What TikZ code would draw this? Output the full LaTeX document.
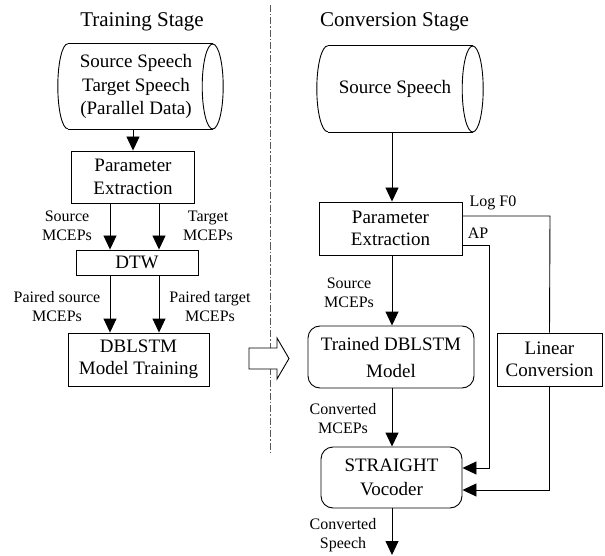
\documentclass[tikz,border=0pt]{standalone}
\usepackage{fontspec}
\setmainfont{Liberation Serif}
\usetikzlibrary{arrows.meta}
\tikzset{
  box/.style={draw, line width=0.9pt, align=center, inner sep=0pt, font=\fontsize{19}{22.5}\selectfont},
  rbox/.style={box, rounded corners=12pt},
  ghost/.style={align=center, inner sep=0pt, font=\fontsize{19}{23.5}\selectfont},
  lbl/.style={align=center, inner sep=0pt, font=\fontsize{16}{19}\selectfont},
  ttl/.style={inner sep=0pt, font=\fontsize{21}{25}\selectfont},
  arr/.style={line width=0.9pt, -{Triangle[length=14pt,width=13pt]}},
  ln/.style={line width=0.9pt},
  cyl/.style={line width=0.9pt}
}
\begin{document}
\begin{tikzpicture}[x=1pt,y=-1pt]
\useasboundingbox (0,0) rectangle (605,556);

% titles
\node[ttl] (t1) at (142,22) {Training Stage};
\node[ttl] (t2) at (394.5,22) {Conversion Stage};

% separator
\draw[gray!70!black, line width=0.8pt, dash pattern=on 7pt off 2pt on 1.5pt off 2pt] (270,5) -- (270,452);

% left cylinder
\node[ghost, minimum width=144.5pt, minimum height=85pt] (cyl1) at (140.25,86.5) {};
\node[ghost] (cyl1t) at (136,86.5) {Source Speech\\Target Speech\\(Parallel Data)};
\draw[cyl] (cyl1.north west) -- (cyl1.north east);
\draw[cyl] (cyl1.south west) -- (cyl1.south east);
\draw[cyl] (cyl1.north west) arc[start angle=90, end angle=270, x radius=10pt, y radius=42.5pt];
\draw[cyl] (cyl1.east) ellipse [x radius=10.5pt, y radius=42.5pt];

% right cylinder
\node[ghost, minimum width=144.5pt, minimum height=86pt] (cyl2) at (400.25,89) {};
\node[ghost] (cyl2t) at (395,89) {Source Speech};
\draw[cyl] (cyl2.north west) -- (cyl2.north east);
\draw[cyl] (cyl2.south west) -- (cyl2.south east);
\draw[cyl] (cyl2.north west) arc[start angle=90, end angle=270, x radius=11pt, y radius=43pt];
\draw[cyl] (cyl2.east) ellipse [x radius=10.5pt, y radius=43pt];

% left boxes
\node[box, minimum width=123pt, minimum height=52pt] (pe1) at (133,177) {Parameter\\Extraction};
\node[box, minimum width=122pt, minimum height=25pt] (dtw) at (137,262.5) {DTW};
\node[box, minimum width=141pt, minimum height=53pt] (dbl) at (138.5,359.5) {DBLSTM\\Model Training};

% right boxes
\node[box, minimum width=143pt, minimum height=53pt] (pe2) at (390.5,228.5) {Parameter\\Extraction};
\node[rbox, minimum width=166pt, minimum height=62pt, font=\fontsize{19}{27}\selectfont] (tdm) at (391,357) {Trained DBLSTM\\Model};
\node[box, minimum width=105pt, minimum height=53pt] (lc) at (549.5,359.5) {Linear\\Conversion};
\node[rbox, minimum width=141pt, minimum height=61pt, font=\fontsize{19}{24}\selectfont] (sv) at (391.5,477.5) {STRAIGHT\\Vocoder};

% helper coordinates
\coordinate (xa) at (110,0);
\coordinate (xb) at (159,0);
\coordinate (xc) at (392,0);
\coordinate (f0) at (550,216);
\coordinate (ap1) at (489,245);
\coordinate (ap2) at (489,468);
\coordinate (lcy) at (550,490);
\coordinate (outp) at (392,555);

% left connectors
\draw[arr] (cyl1.south -| pe1.north) -- (pe1.north);
\draw[arr] (pe1.south -| xa) -- (dtw.north -| xa);
\draw[arr] (pe1.south -| xb) -- (dtw.north -| xb);
\draw[arr] (dtw.south -| xa) -- (dbl.north -| xa);
\draw[arr] (dtw.south -| xb) -- (dbl.north -| xb);

% right connectors
\draw[arr] (cyl2.south -| xc) -- (pe2.north -| xc);
\draw[arr] (pe2.south -| xc) -- (tdm.north -| xc);
\draw[arr] (tdm.south -| xc) -- (sv.north -| xc);
\draw[arr] (sv.south -| xc) -- (outp);
\draw[ln] (pe2.east |- f0) -- (f0) -- (lc.north);
\draw[arr] (pe2.east |- ap1) -- (ap1) -- (ap2) -- (sv.east |- ap2);
\draw[arr] (lc.south) -- (lc.south |- lcy) -- (sv.east |- lcy);

% labels
\node[lbl] (l1) at (67,225.5) {Source\\MCEPs};
\node[lbl] (l2) at (208,225.5) {Target\\MCEPs};
\node[lbl] (l3) at (57,307) {Paired source\\MCEPs};
\node[lbl] (l4) at (210,307) {Paired target\\MCEPs};
\node[lbl] (l5) at (349,292.5) {Source\\MCEPs};
\node[lbl] (l6) at (343,419) {Converted\\MCEPs};
\node[lbl] (l7) at (343,535) {Converted\\Speech};
\node[lbl] (l8) at (493,203) {Log F0};
\node[lbl] (l9) at (478,233) {AP};

% transfer arrow
\draw[line width=0.9pt, fill=white] (249,348) -- (277,348) -- (277,338) -- (289,358.5) -- (277,379) -- (277,369) -- (249,369) -- cycle;
\end{tikzpicture}
\end{document}
